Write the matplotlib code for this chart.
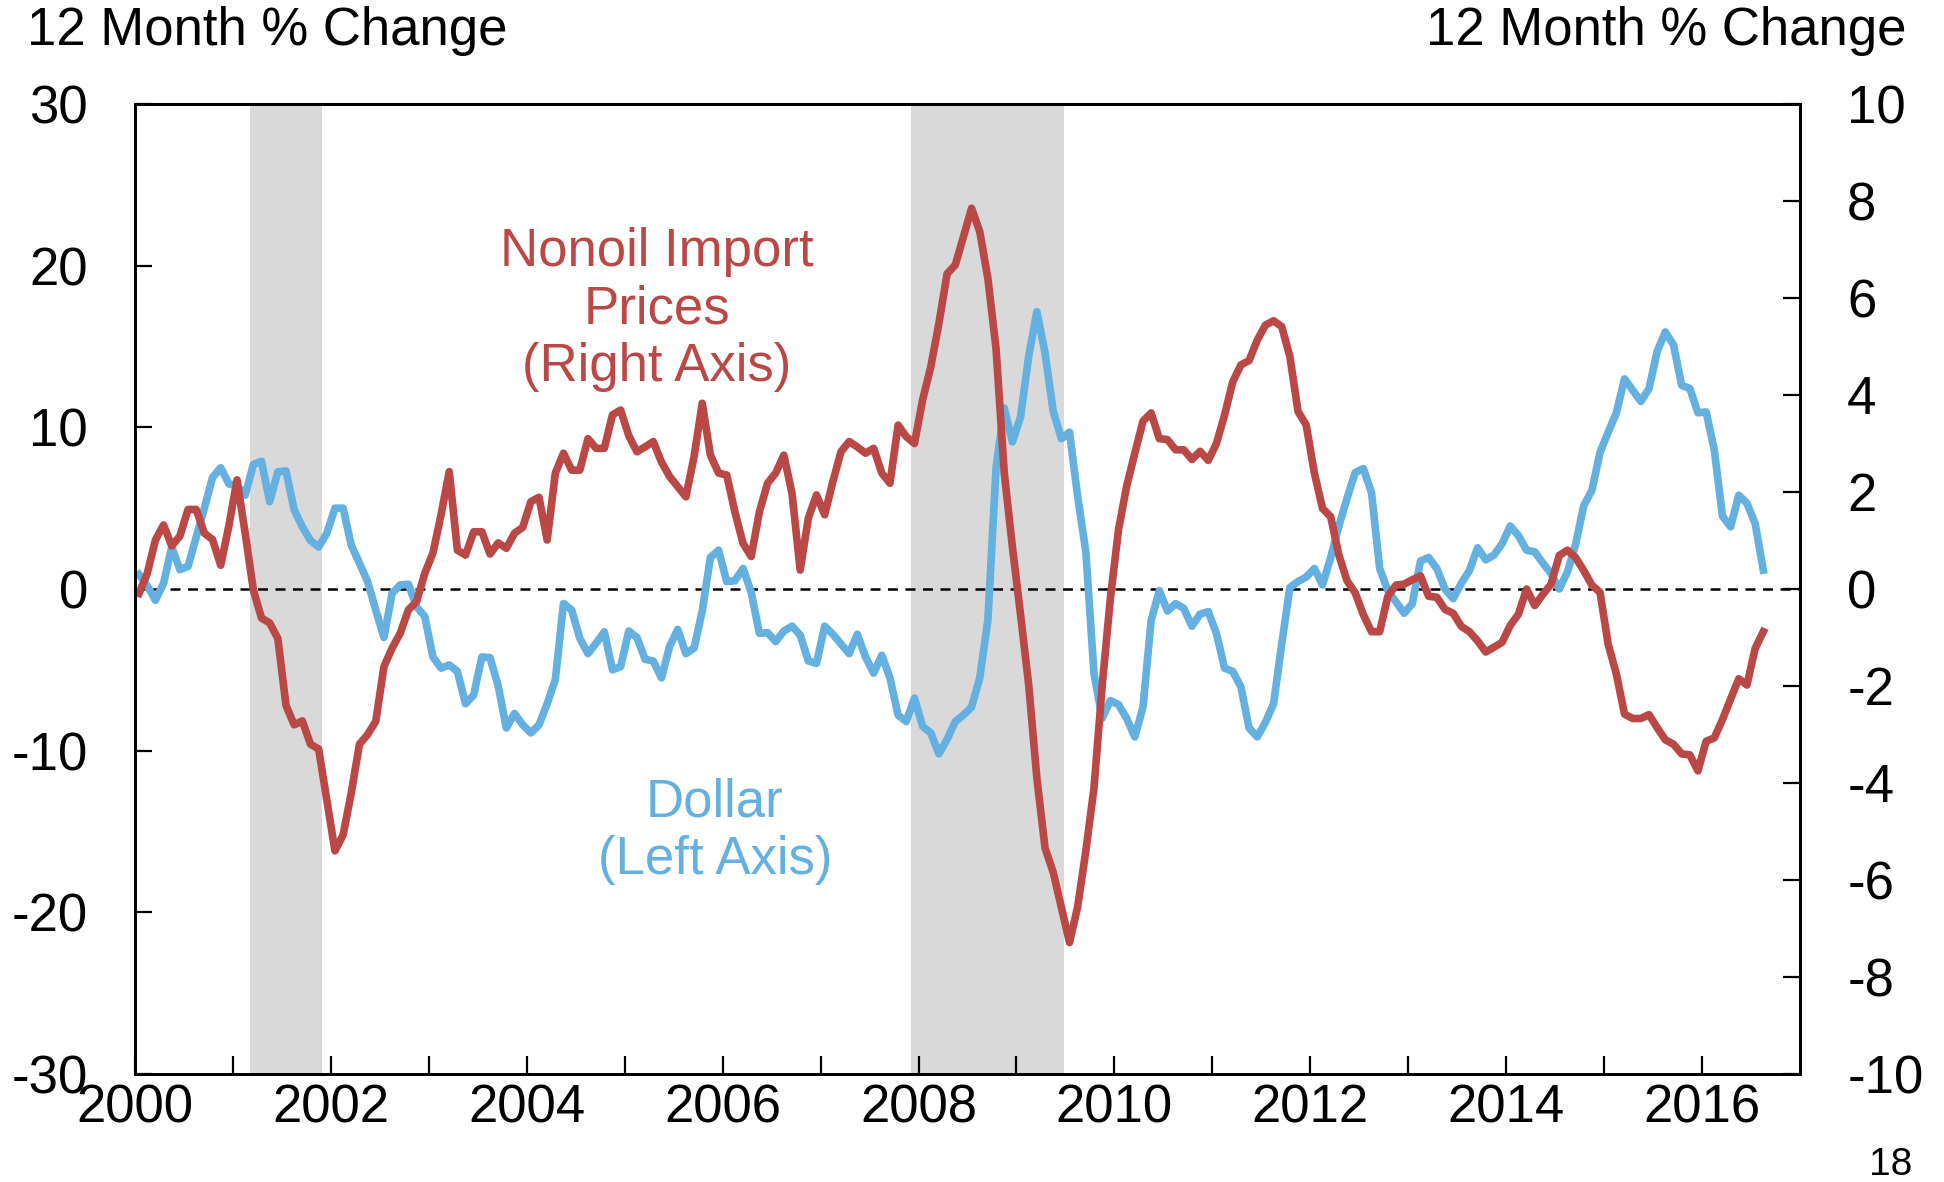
import numpy as np
import matplotlib
matplotlib.use("Agg")
import matplotlib.pyplot as plt

plt.rcParams['font.family'] = ['Liberation Sans', 'DejaVu Sans']
plt.rcParams['axes.unicode_minus'] = False

# 12 month % change, monthly from Jan 2000 to Aug 2016
dollar = [
    0.9, 0.2, -0.7, 0.35, 2.6, 1.2, 1.4, 3.2, 5.0, 6.9, 7.5, 6.5,
    6.4, 5.8, 7.7, 7.9, 5.4, 7.25, 7.3, 4.9, 3.85, 3.0, 2.6, 3.45,
    5.0, 5.0, 2.7, 1.6, 0.45, -1.3, -3.0, -0.27, 0.25, 0.29, -1.1, -1.7,
    -4.2, -4.9, -4.7, -5.1, -7.1, -6.55, -4.2, -4.25, -6.0, -8.6, -7.7, -8.4,
    -8.9, -8.4, -7.1, -5.6, -0.9, -1.3, -3.05, -4.0, -3.35, -2.65, -5.0, -4.8,
    -2.6, -3.0, -4.35, -4.45, -5.5, -3.55, -2.5, -4.0, -3.65, -1.36, 1.95, 2.4,
    0.46, 0.51, 1.27, -0.2, -2.74, -2.7, -3.25, -2.6, -2.3, -2.85, -4.45, -4.6,
    -2.3, -2.8, -3.4, -4.0, -2.8, -4.2, -5.2, -4.1, -5.5, -7.8, -8.2, -6.75,
    -8.5, -8.9, -10.2, -9.3, -8.2, -7.8, -7.3, -5.5, -1.9, 7.5, 11.2, 9.1,
    10.65, 14.4, 17.15, 14.6, 11.0, 9.3, 9.7, 5.7, 2.3, -5.25, -8.0, -6.9,
    -7.15, -8.0, -9.15, -7.3, -1.95, -0.1, -1.36, -0.9, -1.2, -2.3, -1.55, -1.4,
    -2.75, -4.9, -5.1, -6.05, -8.6, -9.15, -8.25, -7.1, -3.4, 0.1, 0.46, 0.74,
    1.27, 0.25, 1.95, 3.9, 5.6, 7.2, 7.45, 5.96, 1.27, -0.1, -0.8, -1.5,
    -0.9, 1.73, 1.95, 1.27, 0.0, -0.6, 0.35, 1.15, 2.55, 1.8, 2.1, 2.8,
    3.9, 3.3, 2.4, 2.3, 1.6, 0.95, 0.0, 1.05, 2.75, 5.15, 6.1, 8.45,
    9.7, 10.9, 13.0, 12.3, 11.6, 12.4, 14.7, 15.9, 15.1, 12.6, 12.4, 10.9,
    10.95, 8.6, 4.5, 3.85, 5.8, 5.3, 4.06, 1.17,
]
nonoil = [
    -0.09, 0.32, 1.01, 1.32, 0.89, 1.09, 1.64, 1.64, 1.15, 1.02, 0.49, 1.3,
    2.25, 1.15, -0.02, -0.6, -0.7, -1.02, -2.4, -2.8, -2.72, -3.2, -3.3, -4.35,
    -5.4, -5.07, -4.2, -3.2, -3.0, -2.73, -1.6, -1.22, -0.91, -0.43, -0.26, 0.32,
    0.74, 1.53, 2.42, 0.8, 0.7, 1.18, 1.18, 0.72, 0.95, 0.84, 1.15, 1.27,
    1.8, 1.89, 1.01, 2.39, 2.8, 2.45, 2.45, 3.1, 2.9, 2.9, 3.59, 3.69,
    3.16, 2.83, 2.93, 3.04, 2.62, 2.32, 2.11, 1.9, 2.73, 3.83, 2.76, 2.39,
    2.35, 1.59, 0.94, 0.67, 1.59, 2.18, 2.39, 2.76, 1.97, 0.39, 1.46, 1.94,
    1.53, 2.21, 2.83, 3.04, 2.93, 2.8, 2.9, 2.39, 2.18, 3.38, 3.14, 3.0,
    3.9, 4.58, 5.48, 6.5, 6.68, 7.26, 7.85, 7.37, 6.4, 4.95, 2.4, 0.87,
    -0.53, -1.98, -3.9, -5.34, -5.84, -6.57, -7.29, -6.55, -5.4, -4.1, -2.0, -0.2,
    1.22, 2.12, 2.8, 3.46, 3.63, 3.1, 3.08, 2.87, 2.87, 2.67, 2.84, 2.65,
    3.0, 3.59, 4.27, 4.62, 4.71, 5.13, 5.44, 5.53, 5.41, 4.79, 3.66, 3.38,
    2.39, 1.66, 1.49, 0.7, 0.17, -0.08, -0.53, -0.88, -0.88, -0.15, 0.08, 0.1,
    0.19, 0.27, -0.15, -0.17, -0.42, -0.5, -0.77, -0.88, -1.07, -1.3, -1.2, -1.1,
    -0.75, -0.52, 0.0, -0.34, -0.11, 0.1, 0.69, 0.8, 0.65, 0.38, 0.08, -0.07,
    -1.14, -1.75, -2.58, -2.67, -2.67, -2.59, -2.86, -3.11, -3.2, -3.4, -3.42, -3.75,
    -3.14, -3.07, -2.69, -2.27, -1.85, -1.98, -1.23, -0.88,
]
start_year = 2000
recessions = [(2001.17, 2001.91), (2007.92, 2009.49)]
year_ticks = list(range(2000, 2017))
year_labels = [str(y) if y % 2 == 0 else '' for y in year_ticks]
left_ticks = [-30, -20, -10, 0, 10, 20, 30]
right_ticks = [-10, -8, -6, -4, -2, 0, 2, 4, 6, 8, 10]

RED = '#B94846'
BLUE = '#63B0E1'
FS = 38

months = np.arange(len(dollar))
xs = start_year + (months + 0.5) / 12.0

fig = plt.figure(figsize=(19.44, 11.82), dpi=100)
ax = fig.add_axes([135 / 1944, 1 - 1074 / 1182, 1665 / 1944, 970 / 1182])
ax2 = ax.twinx()

for a, b in recessions:
    ax.axvspan(a, b, color='#D9D9D9', lw=0, zorder=0)
ax.axhline(0, color='black', lw=1.8, ls=(0, (4, 3)), zorder=1)
ax.plot(xs, dollar, color=BLUE, lw=5.5, solid_joinstyle='round', zorder=2)
ax2.plot(xs, nonoil, color=RED, lw=5.5, solid_joinstyle='round', zorder=2)

ax.set_xlim(2000, 2017)
ax.set_ylim(-30, 30)
ax2.set_ylim(-10, 10)

ax.set_xticks(year_ticks)
ax.set_xticklabels(year_labels)
ax.set_yticks(left_ticks)
ax.set_yticklabels([str(v) for v in left_ticks])
ax2.set_yticks(right_ticks)
ax2.set_yticklabels([str(v) for v in right_ticks])

ax.tick_params(axis='x', direction='in', length=13, width=1.6, labelsize=FS, pad=7)
ax.tick_params(axis='y', direction='in', length=12, width=1.6, labelsize=FS, pad=34)
ax2.tick_params(axis='y', direction='in', length=12, width=1.6, labelsize=FS, pad=34)
for a in (ax, ax2):
    for s in a.spines.values():
        s.set_linewidth(2.0)

ax.text(2005.33, 17.3, 'Nonoil Import\nPrices\n(Right Axis)', color=RED,
        fontsize=FS, ha='center', va='center', linespacing=1.2)
ax.text(2005.92, -15.0, 'Dollar\n(Left Axis)', color=BLUE,
        fontsize=FS, ha='center', va='center', linespacing=1.2)

fig.text(27 / 1944, 1 - 31 / 1182, '12 Month % Change', fontsize=FS, ha='left', va='center')
fig.text(1906 / 1944, 1 - 31 / 1182, '12 Month % Change', fontsize=FS, ha='right', va='center')
fig.text(1891 / 1944, 1 - 1165 / 1182, '18', fontsize=28, ha='center', va='center')

fig.savefig('out.png', dpi=100)
